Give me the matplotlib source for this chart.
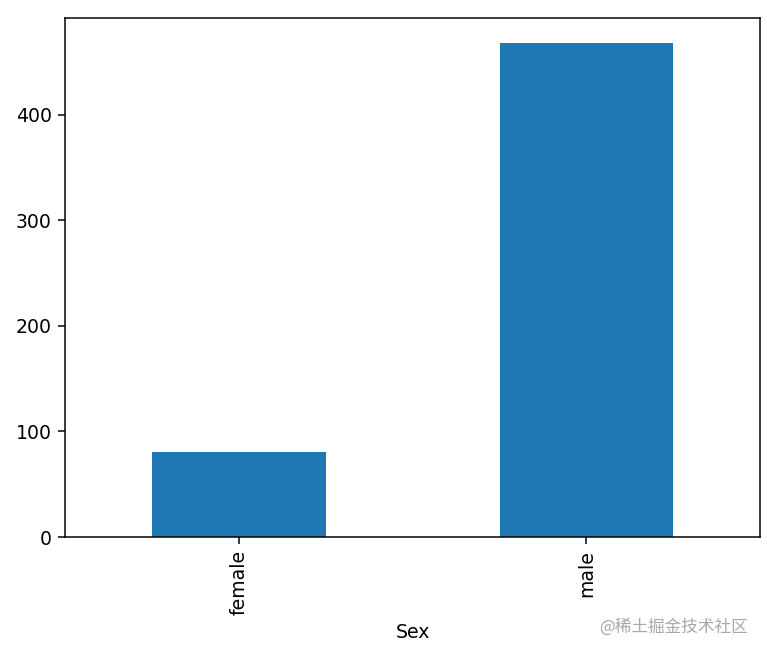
import numpy as np
import pandas as pd
from matplotlib import pyplot as plt

sex = ['female', 'male']
died = [81, 468]

s = pd.Series(died, index=pd.Index(sex, name='Sex'))

dpi = 136
fig = plt.figure(figsize=(767 / dpi, 655 / dpi), dpi=dpi)
ax = fig.add_axes([0.085, 0.180, 0.906, 0.7925])
s.plot(kind='bar', ax=ax, color='#1f77b4')
ax.set_xlabel('Sex')

fig.text(0.975, 0.043, '@稀土掘金技术社区', ha='right', va='center',
         fontsize=8.8, color='#a8a8a8',
         family=['Noto Sans CJK SC', 'DejaVu Sans'])

fig.savefig('out.png', dpi=dpi)
